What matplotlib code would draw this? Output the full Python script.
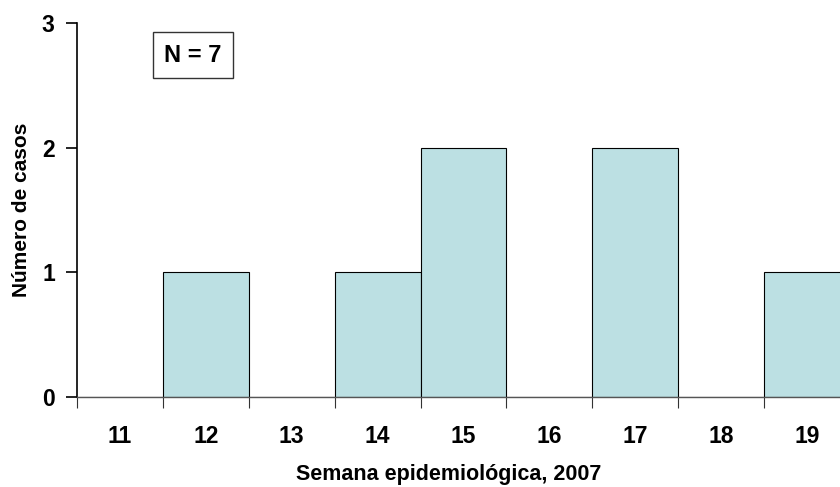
import matplotlib.pyplot as plt
import numpy as np

plt.rcParams['font.family'] = ['Liberation Sans', 'DejaVu Sans']

semanas = [11, 12, 13, 14, 15, 16, 17, 18, 19]
casos = [0, 1, 0, 1, 2, 0, 2, 0, 1]

fig = plt.figure(figsize=(8.4, 4.87), dpi=100)
ax = fig.add_axes([77 / 840, 1 - 397 / 487, (850 - 77) / 840, (397 - 23) / 487])

ax.bar(semanas, casos, width=1.0, color="#bce0e3", edgecolor="black", linewidth=0.8)

ax.set_xlim(semanas[0] - 0.5, semanas[-1] + 0.5)
ax.set_ylim(0, 3)

# boundaries get tick marks, centers get labels
ax.set_xticks(np.arange(semanas[0] - 0.5, semanas[-1] + 1, 1.0))
ax.set_xticklabels([])
ax.set_xticks(semanas, minor=True)
ax.set_xticklabels([str(s) for s in semanas], minor=True, fontsize=16.5, fontweight="bold")
ax.tick_params(axis="x", which="major", direction="out", length=8, width=0.8, color="#333333")
ax.tick_params(axis="x", which="minor", length=0, pad=20)

ax.set_yticks([0, 1, 2, 3])
ax.set_yticklabels(["0", "1", "2", "3"], fontsize=16.5, fontweight="bold")
ax.tick_params(axis="y", direction="out", length=8, width=1.2, pad=8)

for s in ["top", "right"]:
    ax.spines[s].set_visible(False)
ax.spines["left"].set_linewidth(1.2)
ax.spines["bottom"].set_color("#555555")
ax.spines["bottom"].set_linewidth(1.0)

fig.text(449 / 840, 1 - 480 / 487, "Semana epidemiológica, 2007", ha="center", va="baseline",
         fontsize=15.5, fontweight="bold")
fig.text(22 / 840, 1 - 210 / 487, "Número de casos", ha="center", va="center",
         rotation=90, fontsize=15, fontweight="bold")

fig.text(193 / 840, 1 - 55 / 487, "N = 7", ha="center", va="center", fontsize=17,
         fontweight="bold",
         bbox=dict(boxstyle="square,pad=0.5", facecolor="white", edgecolor="#333333", linewidth=1.0))

fig.savefig("out.png", dpi=100)
